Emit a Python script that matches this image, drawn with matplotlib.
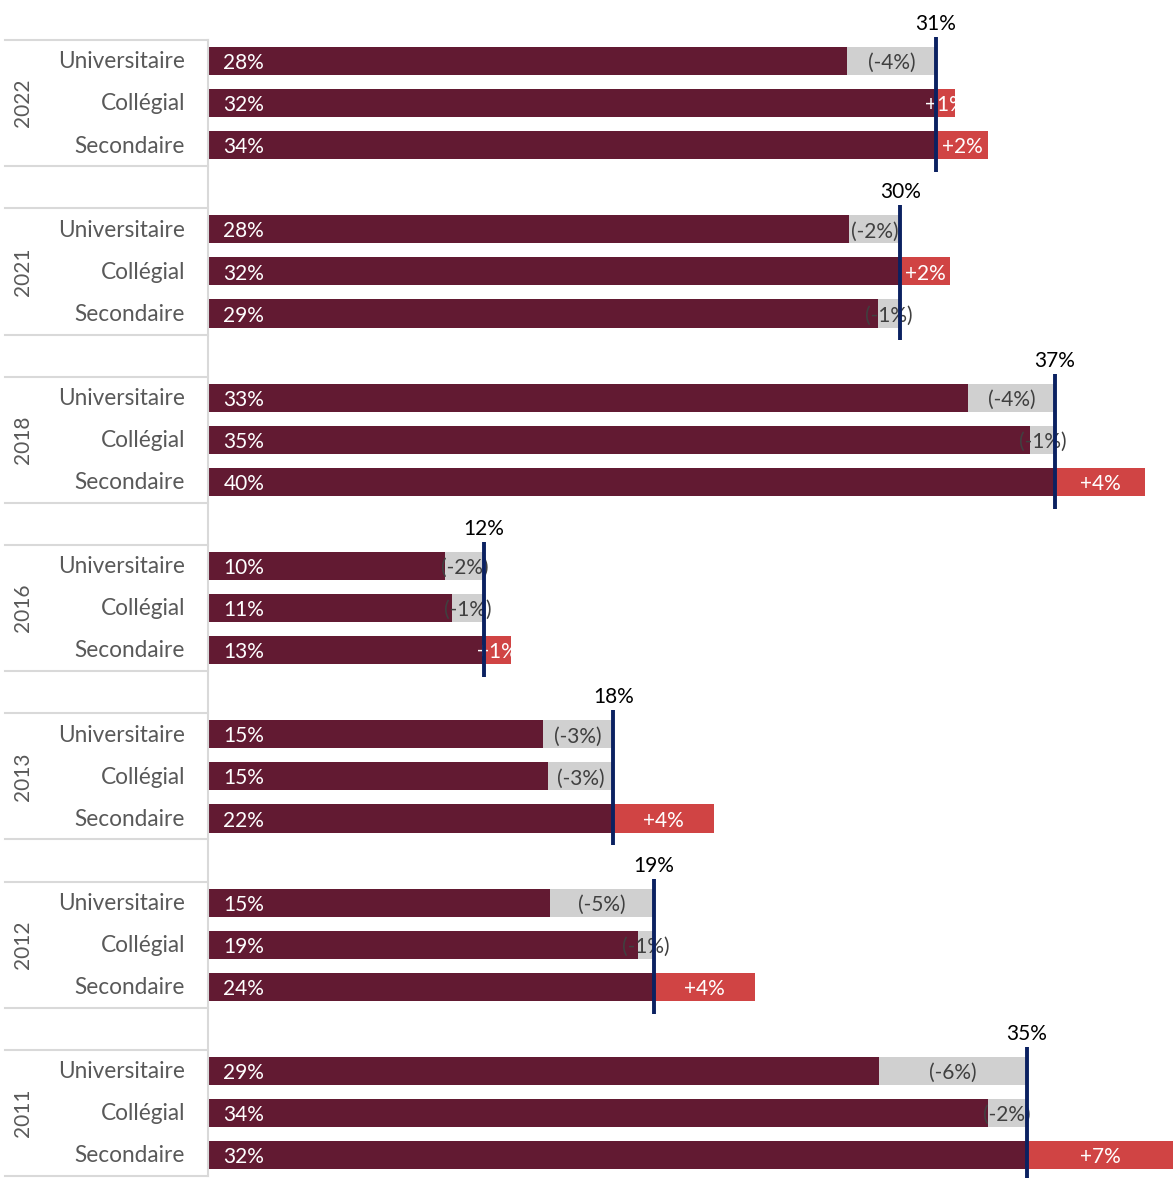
import matplotlib
matplotlib.use("Agg")
import matplotlib.pyplot as plt
from matplotlib.transforms import blended_transform_factory

plt.rcParams['font.family'] = ['Lato', 'DejaVu Sans']

# ---------------- data ----------------
years = ["2022", "2021", "2018", "2016", "2013", "2012", "2011"]
categories = ["Universitaire", "Collégial", "Secondaire"]

# average (vertical line) per year
avg_values = [31.24, 29.72, 36.35, 11.85, 17.40, 19.14, 35.13]
avg_labels = ["31%", "30%", "37%", "12%", "18%", "19%", "35%"]

# gap vs. average per category (rows follow years order)
gap_univ = [-3.82, -2.19, -3.73, -1.68, -3.02, -4.46, -6.33]
gap_coll = [0.82, 2.13, -1.07, -1.38, -2.81, -0.69, -1.65]
gap_sec = [2.24, -0.96, 3.86, 1.15, 4.32, 4.34, 6.30]

# labels shown inside the dark bars
lab_univ = ["28%", "28%", "33%", "10%", "15%", "15%", "29%"]
lab_coll = ["32%", "32%", "35%", "11%", "15%", "19%", "34%"]
lab_sec = ["34%", "29%", "40%", "13%", "22%", "24%", "32%"]

# labels shown on the gap segments
gaplab_univ = ["(-4%)", "(-2%)", "(-4%)", "(-2%)", "(-3%)", "(-5%)", "(-6%)"]
gaplab_coll = ["+1%", "+2%", "(-1%)", "(-1%)", "(-3%)", "(-1%)", "(-2%)"]
gaplab_sec = ["+2%", "(-1%)", "+4%", "+1%", "+4%", "+4%", "+7%"]

# ---------------- style ----------------
MAROON = "#621A32"
RED = "#D04444"
GREY = "#D0D0D0"
NAVY = "#0B2161"
TXT_GREY = "#595959"
GAP_TXT = "#404040"
SEP = "#D9D9D9"
FS = 15
FS_CAT = 16.3
DY = 0.05  # small downward nudge for text inside rows

W, H = 1173, 1178
fig = plt.figure(figsize=(W / 100, H / 100), dpi=100)
x0 = 208 / W
ax = fig.add_axes([x0, 0, 1 - x0, 1])
ax.set_xlim(0, (W - 208) / 23.3)
row0_px, pitch = 61, 42.08
ax.set_ylim((H - row0_px) / pitch, -row0_px / pitch)
ax.axis("off")

gaps_all = [gap_univ, gap_coll, gap_sec]
labs_all = [lab_univ, lab_coll, lab_sec]
gaplabs_all = [gaplab_univ, gaplab_coll, gaplab_sec]

trans = blended_transform_factory(fig.transFigure, ax.transData)
bh = 0.67

for g, yr in enumerate(years):
    base = g * 4
    avg = avg_values[g]
    for c, cat in enumerate(categories):
        r = base + c
        gap = gaps_all[c][g]
        dark = avg + min(gap, 0)
        ax.barh(r, dark, height=bh, color=MAROON, zorder=2)
        if gap < 0:
            ax.barh(r, -gap, left=dark, height=bh, color=GREY, zorder=2)
            ax.text(dark - gap / 2, r + DY, gaplabs_all[c][g], ha="center", va="center",
                    color=GAP_TXT, fontsize=FS, zorder=3)
        else:
            ax.barh(r, gap, left=avg, height=bh, color=RED, zorder=2)
            ax.text(avg + gap / 2, r + DY, gaplabs_all[c][g], ha="center", va="center",
                    color="white", fontsize=FS, zorder=3)
        ax.text(0.66, r + DY, labs_all[c][g], ha="left", va="center", color="white",
                fontsize=FS, zorder=3)
        ax.text(185 / W, r + 0.02, cat, transform=trans, ha="right", va="center",
                color=TXT_GREY, fontsize=FS_CAT, clip_on=False)
    # average line and label
    ax.plot([avg, avg], [base - 0.57, base + 2.64], color=NAVY, lw=2.8,
            solid_capstyle="butt", zorder=4)
    ax.text(avg, base - 0.737, avg_labels[g], ha="center", va="baseline",
            color="black", fontsize=FS, zorder=4)
    # year label
    ax.text(23 / W, base + 1, yr, transform=trans, rotation=90, ha="center",
            va="center", color=TXT_GREY, fontsize=FS, clip_on=False)
    # separators
    for yy in (base - 0.5, base + 2.5):
        ax.plot([5 / W, 208 / W], [yy, yy], transform=trans, color=SEP, lw=1.5,
                clip_on=False)

ax.plot([208 / W, 208 / W], [-0.5, (len(years) - 1) * 4 + 2.5], transform=trans,
        color=SEP, lw=1.5, clip_on=False)

fig.savefig("out.png", dpi=100)
